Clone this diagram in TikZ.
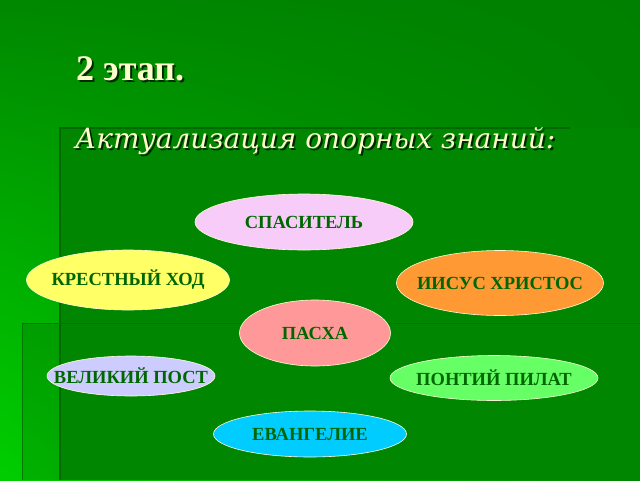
\documentclass[tikz,border=0pt]{standalone}
\usepackage{fontspec}
\setmainfont{Liberation Serif}
\newfontfamily\subfont{DejaVu Serif}
\usetikzlibrary{shapes,shadings}
\definecolor{labelgreen}{RGB}{0,102,0}
\definecolor{titlecream}{RGB}{255,255,204}
\definecolor{pinkoval}{RGB}{248,204,248}
\definecolor{yellowoval}{RGB}{255,255,102}
\definecolor{orangeoval}{RGB}{255,153,51}
\definecolor{salmonoval}{RGB}{255,153,153}
\definecolor{lilacoval}{RGB}{204,204,255}
\definecolor{limeoval}{RGB}{102,255,102}
\definecolor{cyanoval}{RGB}{0,204,255}
\definecolor{bgtopleft}{RGB}{0,136,0}
\definecolor{bgtopright}{RGB}{0,128,0}
\definecolor{bgbotleft}{RGB}{0,206,0}
\definecolor{bgbotright}{RGB}{0,136,0}
\definecolor{panelfill}{RGB}{0,134,0}
\definecolor{paneledge}{RGB}{0,104,0}
\definecolor{lowedge}{RGB}{0,120,0}
\tikzstyle{oval} = [ellipse, draw=white!85!yellow, line width=0.6pt, inner sep=0pt, text=labelgreen, font=\fontsize{18.5}{20}\selectfont\bfseries]
\tikzstyle{heading} = [anchor=base west, inner sep=0pt, text=titlecream]
\newcommand{\tx}[1]{\makebox[0pt]{#1}}

\begin{document}
\begin{tikzpicture}[x=1pt, y=-1pt]
   \useasboundingbox (0,0) rectangle (640,480);
   % background
   \shade[upper left=bgtopleft, upper right=bgtopright, lower left=bgbotleft, lower right=bgbotright]
      (0,0) rectangle (640,480);
   \fill[black, opacity=0.12] (22,323) rectangle (640,480);
   \fill[panelfill] (60,128) rectangle (640,480);
   \draw[line width=1.5pt, paneledge] (60,480) -- (60,128) -- (570,128);
   \draw[line width=1pt, lowedge] (22,480) -- (22,323) -- (640,323);

   % title
   \node[heading, text=black, opacity=0.7, font=\fontsize{36}{38}\selectfont\bfseries] (title-sh) at (78,82) {2 этап.};
   \node[heading, font=\fontsize{36}{38}\selectfont\bfseries] (title) at (76,80) {2 этап.};
   \node[heading, text=black, opacity=0.7, font=\subfont\fontsize{28}{32}\selectfont\itshape] (sub-sh) at (77,150) {Актуализация опорных знаний:};
   \node[heading, font=\subfont\fontsize{28}{32}\selectfont\itshape] (sub) at (75,148) {Актуализация опорных знаний:};

   % nodes
   \node[oval, fill=pinkoval, minimum width=218pt, minimum height=56pt] (saviour) at (304,222) {\tx{СПАСИТЕЛЬ}};
   \node[oval, fill=yellowoval, minimum width=203pt, minimum height=60pt] (procession) at (128,280) {\tx{КРЕСТНЫЙ ХОД}};
   \node[oval, fill=orangeoval, minimum width=207pt, minimum height=65pt] (jesus) at (500,283) {\tx{ИИСУС ХРИСТОС}};
   \node[oval, fill=salmonoval, minimum width=151pt, minimum height=66pt] (easter) at (315,333) {\tx{ПАСХА}};
   \node[oval, fill=lilacoval, minimum width=168pt, minimum height=40pt] (lent) at (131,376) {\tx{ВЕЛИКИЙ ПОСТ}};
   \node[oval, fill=limeoval, minimum width=208pt, minimum height=45pt] (pilate) at (494,378) {\tx{ПОНТИЙ ПИЛАТ}};
   \node[oval, fill=cyanoval, minimum width=193pt, minimum height=46pt] (gospel) at (310,434) {\tx{ЕВАНГЕЛИЕ}};
\end{tikzpicture}
\end{document}
